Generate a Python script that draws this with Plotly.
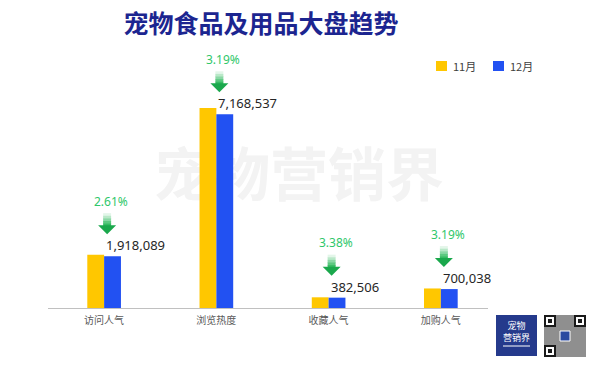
import plotly.graph_objects as go

categories = ["访问人气", "浏览热度", "收藏人气", "加购人气"]
nov_values = [1969500, 7404750, 395890, 723100]
dec_values = [1918089, 7168537, 382506, 700038]
dec_labels = ["1,918,089", "7,168,537", "382,506", "700,038"]
change_labels = ["2.61%", "3.19%", "3.38%", "3.19%"]
series_names = ["11月", "12月"]

YELLOW = "#FFC700"
BLUE = "#2251F2"
SERIES_COLORS = [YELLOW, BLUE]
GREEN_TXT = "#2fc76a"
FONT = "Noto Sans, Noto Sans CJK SC, sans-serif"
CJK = "Noto Sans CJK SC, sans-serif"

W, H = 600, 368
ML, MR, MT, MB = 48, 112, 60, 60
PW, PH = W - ML - MR, H - MT - MB


def xp(px):
    return (px - ML) / PW


def yp(py):
    return (H - MB - py) / PH


fig = go.Figure()
fig.add_trace(go.Bar(x=categories, y=nov_values, name=series_names[0],
                     marker=dict(color=YELLOW, line=dict(width=0))))
fig.add_trace(go.Bar(x=categories, y=dec_values, name=series_names[1],
                     marker=dict(color=BLUE, line=dict(width=0))))

shapes = []
annotations = []

# watermark behind bars
shapes.append(dict(type="rect", xref="paper", yref="paper",
                   x0=xp(150), x1=xp(448), y0=yp(210), y1=yp(150),
                   line=dict(width=0), fillcolor="rgba(0,0,0,0)", layer="below",
                   label=dict(text="<b>宠物营销界</b>",
                              font=dict(family=CJK, size=58, color="#f3f3f3"),
                              textposition="middle center")))

shaft_cols = ["#e3f6e9", "#b9e8c8", "#8ad8a5", "#5cc980", "#36bb62"]
for i, (cat, v) in enumerate(zip(categories, dec_values)):
    annotations.append(dict(x=cat, y=v, xref="x", yref="y", text=dec_labels[i],
                            showarrow=False, xanchor="left", yanchor="middle",
                            xshift=0, yshift=11,
                            font=dict(family=FONT, size=13, color="#262626")))
    annotations.append(dict(x=cat, y=v, xref="x", yref="y", text=change_labels[i],
                            showarrow=False, xanchor="center", yanchor="middle",
                            xshift=7, yshift=55,
                            font=dict(family=FONT, size=12, color=GREEN_TXT)))
    n = len(shaft_cols)
    top, bot = 43, 30
    step = (top - bot) / n
    for k, c in enumerate(shaft_cols):
        shapes.append(dict(type="rect", xref="x", yref="y",
                           xsizemode="pixel", ysizemode="pixel",
                           xanchor=i, yanchor=v,
                           x0=-1, x1=7, y0=top - k * step, y1=top - (k + 1) * step - 0.5,
                           line=dict(width=0), fillcolor=c, layer="above"))
    shapes.append(dict(type="path", xref="x", yref="y",
                       xsizemode="pixel", ysizemode="pixel",
                       xanchor=i, yanchor=v,
                       path="M -6,31 L 12,31 L 3,22 Z",
                       line=dict(width=0), fillcolor="#1aa84c", layer="above"))

# legend (drawn manually to match the compact spacing)
for j, (name, col) in enumerate(zip(series_names, SERIES_COLORS)):
    x0 = 436 + 57 * j
    shapes.append(dict(type="rect", xref="paper", yref="paper",
                       x0=xp(x0), x1=xp(x0 + 11), y0=yp(71), y1=yp(61),
                       line=dict(width=0), fillcolor=col, layer="above"))
    annotations.append(dict(x=xp(x0 + 15), y=yp(66), xref="paper", yref="paper",
                            text=name, showarrow=False, xanchor="left", yanchor="middle",
                            font=dict(family=CJK, size=11, color="#404040")))

# logo block
shapes.append(dict(type="rect", xref="paper", yref="paper",
                   x0=xp(496), x1=xp(537), y0=yp(356), y1=yp(315),
                   line=dict(width=0), fillcolor="#253a8c", layer="above"))
shapes.append(dict(type="line", xref="paper", yref="paper",
                   x0=xp(503), x1=xp(530), y0=yp(346), y1=yp(346),
                   line=dict(width=1, color="#ffffff"), layer="above"))
annotations.append(dict(x=xp(516.5), y=yp(331), xref="paper", yref="paper",
                        text="宠物<br>营销界", showarrow=False, borderpad=0,
                        xanchor="center", yanchor="middle",
                        font=dict(family=CJK, size=9, color="#ffffff")))

# QR-like block
shapes.append(dict(type="rect", xref="paper", yref="paper",
                   x0=xp(544), x1=xp(586), y0=yp(357), y1=yp(315),
                   line=dict(width=0), fillcolor="#8f8f8f", layer="above"))
for fx, fy in [(544, 315), (574, 315), (544, 345)]:
    shapes.append(dict(type="rect", xref="paper", yref="paper",
                       x0=xp(fx), x1=xp(fx + 12), y0=yp(fy + 12), y1=yp(fy),
                       line=dict(width=0), fillcolor="#1a1a1a", layer="above"))
    shapes.append(dict(type="rect", xref="paper", yref="paper",
                       x0=xp(fx + 2), x1=xp(fx + 10), y0=yp(fy + 10), y1=yp(fy + 2),
                       line=dict(width=0), fillcolor="#ffffff", layer="above"))
    shapes.append(dict(type="rect", xref="paper", yref="paper",
                       x0=xp(fx + 4), x1=xp(fx + 8), y0=yp(fy + 8), y1=yp(fy + 4),
                       line=dict(width=0), fillcolor="#1a1a1a", layer="above"))
shapes.append(dict(type="rect", xref="paper", yref="paper",
                   x0=xp(560), x1=xp(570), y0=yp(341), y1=yp(331),
                   line=dict(width=1, color="#ffffff"), fillcolor="#2b4aa0", layer="above"))

fig.update_layout(
    width=W, height=H,
    margin=dict(l=ML, r=MR, t=MT, b=MB, pad=0),
    paper_bgcolor="#ffffff", plot_bgcolor="rgba(0,0,0,0)",
    barmode="group", bargap=0.70, bargroupgap=0,
    title=dict(text="<b>宠物食品及用品大盘趋势</b>", x=261 / W, xref="container",
               xanchor="center", y=1 - 24 / H, yanchor="middle",
               font=dict(family=CJK, size=25, color="#1c2590", weight=900)),
    font=dict(family=FONT, size=11, color="#404040"),
    showlegend=False,
    xaxis=dict(type="category", range=[-0.5, 3.42], showline=True,
               linecolor="#c0c0c0", linewidth=1, ticks="", showgrid=False,
               zeroline=False, tickfont=dict(family=CJK, size=10, color="#595959"),
               ticklabelstandoff=3, fixedrange=True),
    yaxis=dict(range=[0, PH * 37009], visible=False, showgrid=False,
               zeroline=False, fixedrange=True),
    shapes=shapes,
    annotations=annotations,
)

fig.write_html("out.html", config={"displayModeBar": False},
               post_script="document.body.style.margin='0px';")
